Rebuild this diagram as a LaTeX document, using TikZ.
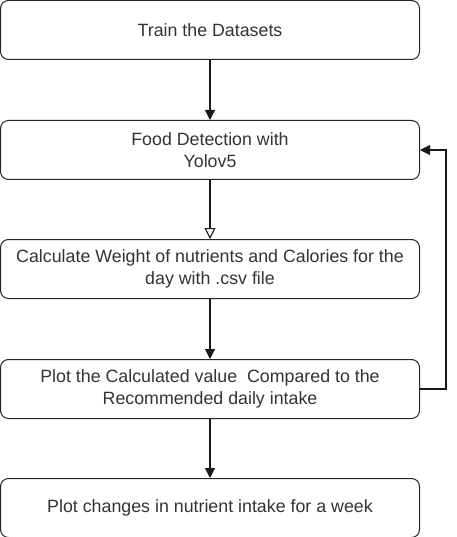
\documentclass[tikz,border=0pt]{standalone}
\usepackage{fontspec}
\setmainfont{Liberation Sans}
\usetikzlibrary{arrows.meta}
\definecolor{txt}{HTML}{333333}
\tikzset{
  stepbox/.style={draw=black!85, line width=1pt, rounded corners=8pt, minimum width=419pt, minimum height=59pt, inner sep=0pt, align=center, text=txt, font=\fontsize{17.8}{22}\selectfont},
  conn/.style={draw=black!90, line width=1.1pt, -{Triangle[width=10pt,length=10pt]}},
  openconn/.style={draw=black!90, line width=1.1pt, -{Triangle[open,fill=white,width=11pt,length=11pt]}}
}
\begin{document}
\begin{tikzpicture}[x=1pt,y=1pt]
\useasboundingbox (0,0) rectangle (456,-537);
\node[stepbox] (a) at (210,-30) {Train the Datasets};
\node[stepbox] (b) at (210,-150) {Food Detection with\\Yolov5};
\node[stepbox] (c) at (210,-269) {Calculate Weight of nutrients and Calories for the\\day with .csv file};
\node[stepbox] (d) at (210,-389) {Plot the Calculated value~ Compared to the\\Recommended daily intake};
\node[stepbox] (e) at (210,-508) {Plot changes in nutrient intake for a week};
\coordinate (r1) at (446,-389);
\coordinate (r2) at (446,-150);
\draw[conn] (a) -- (b);
\draw[openconn] (b) -- (c);
\draw[conn] (c) -- (d);
\draw[conn] (d) -- (e);
\draw[conn] (d.east) -- (r1) -- (r2) -- (b.east);
\end{tikzpicture}
\end{document}
